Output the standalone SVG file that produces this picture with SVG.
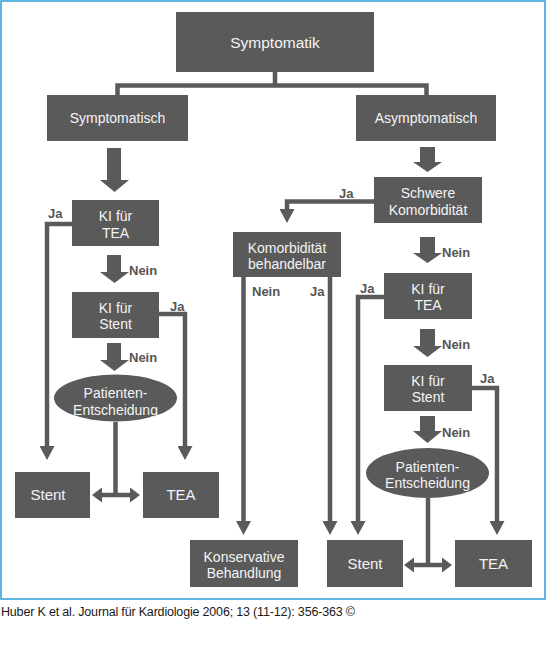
<svg xmlns="http://www.w3.org/2000/svg" width="547" height="661" viewBox="0 0 547 661">
<style>
.box{fill:#5a5a5a}
.bt{fill:#f4f4f4;font-family:"Liberation Sans",Arial,sans-serif;font-size:14px;text-anchor:middle}
.big{font-size:15px}
.title{font-size:15.5px}
.lbl{fill:#555555;font-family:"Liberation Sans",Arial,sans-serif;font-size:13px;font-weight:bold}
.blk{fill:#5a5a5a}
.ln{fill:none;stroke:#5a5a5a;stroke-width:4.5;stroke-linejoin:miter}
.foot{fill:#1a1a1a;font-family:"Liberation Sans",Arial,sans-serif;font-size:12.5px}
</style>
<defs>
<marker id="ah" markerUnits="userSpaceOnUse" markerWidth="14" markerHeight="15" refX="0" refY="7.5" orient="auto"><path d="M0,0 L14,7.5 L0,15 z" fill="#5a5a5a"/></marker>
<marker id="ah2" markerUnits="userSpaceOnUse" markerWidth="10" markerHeight="15" refX="0" refY="7.5" orient="auto-start-reverse"><path d="M0,0 L10,7.5 L0,15 z" fill="#5a5a5a"/></marker>
</defs>
<rect x="0" y="0" width="547" height="661" fill="#ffffff"/>
<rect x="1" y="1" width="544" height="598" fill="#ffffff" stroke="#29a1d8" stroke-width="1.5"/>

<g id="connectors">
<path class="ln" stroke-width="4" d="M117.5,95 V85.5 H426.5 V95 M275,72 V85.5"/>
<polygon class="blk" points="107,148 121,148 121,180 129,180 114.5,192 100,180 107,180"/>
<polygon class="blk" points="107,255 121,255 121,272 129,272 114.5,283 100,272 107,272"/>
<polygon class="blk" points="107,343 121,343 121,360 129,360 114.5,371 100,360 107,360"/>
<polygon class="blk" points="420,147 435,147 435,162 442,162 427.5,172 413,162 420,162"/>
<polygon class="blk" points="420,237 435,237 435,253 442,253 427.5,263 413,253 420,253"/>
<polygon class="blk" points="420,329 435,329 435,346 442,346 427.5,357 413,346 420,346"/>
<polygon class="blk" points="420,416 435,416 435,431 442,431 427.5,443 413,431 420,431"/>
<path class="ln" d="M72,224 H47 V446" marker-end="url(#ah)"/>
<path class="ln" d="M159,314 H185 V446" marker-end="url(#ah)"/>
<path class="ln" d="M115.5,422 V495"/>
<path class="ln" d="M102,495 H130" marker-start="url(#ah2)" marker-end="url(#ah2)"/>
<path class="ln" d="M374,201.5 H287 V209" marker-end="url(#ah)"/>
<path class="ln" d="M243.5,277 V521" marker-end="url(#ah)"/>
<path class="ln" d="M330,277 V521" marker-end="url(#ah)"/>
<path class="ln" d="M384,297 H358 V521" marker-end="url(#ah)"/>
<path class="ln" d="M472,388 H497 V521" marker-end="url(#ah)"/>
<path class="ln" d="M428,498 V565"/>
<path class="ln" d="M414,565 H442" marker-start="url(#ah2)" marker-end="url(#ah2)"/>
<text class="lbl" x="48" y="218">Ja</text>
<text class="lbl" x="170" y="311">Ja</text>
<text class="lbl" x="129" y="275">Nein</text>
<text class="lbl" x="129" y="362">Nein</text>
<text class="lbl" x="339" y="198">Ja</text>
<text class="lbl" x="442" y="257">Nein</text>
<text class="lbl" x="442" y="349">Nein</text>
<text class="lbl" x="442" y="437">Nein</text>
<text class="lbl" x="252" y="296">Nein</text>
<text class="lbl" x="310" y="296">Ja</text>
<text class="lbl" x="360" y="293">Ja</text>
<text class="lbl" x="480" y="383">Ja</text>
</g>

<g id="n-symptomatik"><rect class="box" x="176" y="12" width="198" height="60"/><text class="bt title" x="275" y="48">Symptomatik</text></g>
<g id="n-symptomatisch"><rect class="box" x="47" y="95" width="141" height="46"/><text class="bt" x="117.5" y="123">Symptomatisch</text></g>
<g id="n-asymptomatisch"><rect class="box" x="356" y="95" width="140" height="46"/><text class="bt" x="426" y="123">Asymptomatisch</text></g>
<g id="n-ki-tea-l"><rect class="box" x="72" y="200" width="87" height="46"/><text class="bt" x="115.5" y="221">KI für</text><text class="bt" x="115.5" y="238">TEA</text></g>
<g id="n-ki-stent-l"><rect class="box" x="72" y="292" width="87" height="46"/><text class="bt" x="115.5" y="313">KI für</text><text class="bt" x="115.5" y="329">Stent</text></g>
<g id="n-patient-l"><ellipse class="box" cx="115.5" cy="398" rx="61.5" ry="23.5"/><text class="bt" x="115.5" y="398">Patienten-</text><text class="bt" x="115.5" y="415">Entscheidung</text></g>
<g id="n-stent-l"><rect class="box" x="15" y="472" width="75" height="46"/><text class="bt big" x="48" y="500">Stent</text></g>
<g id="n-tea-l"><rect class="box" x="143" y="472" width="76" height="46"/><text class="bt big" x="181" y="500">TEA</text></g>
<g id="n-schwere"><rect class="box" x="374" y="177" width="108" height="46"/><text class="bt" x="428" y="198">Schwere</text><text class="bt" x="428" y="215">Komorbidität</text></g>
<g id="n-komorb"><rect class="box" x="233" y="232" width="108" height="45"/><text class="bt" x="287" y="253">Komorbidität</text><text class="bt" x="287" y="269">behandelbar</text></g>
<g id="n-ki-tea-r"><rect class="box" x="384" y="273" width="88" height="46"/><text class="bt" x="428" y="294">KI für</text><text class="bt" x="428" y="310">TEA</text></g>
<g id="n-ki-stent-r"><rect class="box" x="384" y="365" width="88" height="46"/><text class="bt" x="428" y="386">KI für</text><text class="bt" x="428" y="402">Stent</text></g>
<g id="n-patient-r"><ellipse class="box" cx="427.5" cy="473" rx="61.5" ry="25"/><text class="bt" x="427.5" y="472">Patienten-</text><text class="bt" x="427.5" y="488">Entscheidung</text></g>
<g id="n-konservativ"><rect class="box" x="190" y="540" width="108" height="47"/><text class="bt" x="244" y="562">Konservative</text><text class="bt" x="244" y="578">Behandlung</text></g>
<g id="n-stent-r"><rect class="box" x="327" y="540" width="76" height="47"/><text class="bt big" x="365" y="569">Stent</text></g>
<g id="n-tea-r"><rect class="box" x="455" y="540" width="77" height="47"/><text class="bt big" x="493.5" y="569">TEA</text></g>

<text class="foot" x="1" y="616" textLength="354" lengthAdjust="spacing">Huber K et al. Journal für Kardiologie 2006; 13 (11-12): 356-363 ©</text>
</svg>
